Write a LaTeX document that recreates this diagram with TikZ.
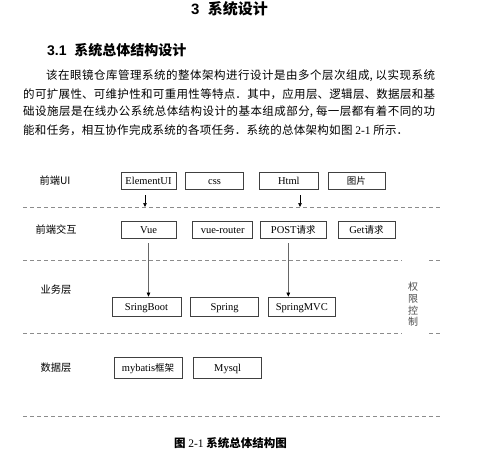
\documentclass[tikz,border=0pt]{standalone}
\usepackage{fontspec}
\setmainfont{Liberation Serif}
\newfontfamily\zh{Noto Sans CJK SC}
\newfontfamily\hd{Liberation Sans}
\usepackage{tikz}
\usetikzlibrary{positioning,arrows.meta,shadows}
\XeTeXlinebreaklocale "zh"
\XeTeXlinebreakskip=0pt plus 2pt
% one justified line of body text
\newcommand\fullline[2]{\parbox{#1}{\parfillskip=0pt #2}}

\begin{document}
\begin{tikzpicture}[x=1pt,y=-1pt,>={Triangle[length=4pt,width=3.5pt,black]},
  box/.style={draw=black!75,line width=0.65pt,inner sep=0pt,fill=white,
    text height=8pt,text depth=1pt,
    font=\fontsize{10.5}{12}\selectfont,
    drop shadow={shadow xshift=0.8pt,shadow yshift=-0.8pt,fill=black!35,opacity=1}},
  layer/.style={anchor=west,font=\zh\fontsize{10.25}{12}\selectfont},
  para/.style={anchor=west,inner sep=0pt,font=\zh\fontsize{11.5}{14}\selectfont},
  sep/.style={draw=black!45,line width=0.6pt,dash pattern=on 4pt off 3pt},
  down/.style={->,line width=0.6pt}]
  \useasboundingbox (0,0) rectangle (479,459);

  % headings and text
  \node[font=\hd\bfseries\fontsize{15}{18}\selectfont] (chap) at (229.5,9)
    {3\ \ {\zh 系统设计}};
  \node[anchor=west,inner sep=0pt,font=\hd\bfseries\fontsize{14}{17}\selectfont] (sec) at (47,50)
    {3.1\ \ {\zh 系统总体结构设计}};
  \node[para] (l1) at (46,76)
    {\fullline{389pt}{该在眼镜仓库管理系统的整体架构进行设计是由多个层次组成, 以实现系统}};
  \node[para] (l2) at (23,94)
    {\fullline{412pt}{的可扩展性、可维护性和可重用性等特点．其中，应用层、逻辑层、数据层和基}};
  \node[para] (l3) at (23,112)
    {\fullline{412pt}{础设施层是在线办公系统总体结构设计的基本组成部分, 每一层都有着不同的功}};
  \node[para] (l4) at (23,130)
    {\fullline{385pt}{能和任务，相互协作完成系统的各项任务．系统的总体架构如图 {\rmfamily 2-1} 所示．}};

  % layer names
  \node[layer] (uiL) at (36,180.5) {前端UI};
  \node[layer] (ixL) at (32,229.5) {前端交互};
  \node[layer] (bizL) at (37,290) {业务层};
  \node[layer] (dataL) at (37,368) {数据层};
  \node[align=center,text=black!70,font=\zh\fontsize{10}{11.7}\selectfont] (auth) at (413,304.5)
    {权\\限\\控\\制};

  % front end UI
  \node[box,minimum width=55pt,minimum height=17pt] (elem) at (148.5,180.5) {ElementUI};
  \node[box,minimum width=58pt,minimum height=17pt,right=9pt of elem] (css) {css};
  \node[box,minimum width=59pt,minimum height=17pt,right=15pt of css] (html) {Html};
  \node[box,minimum width=57pt,minimum height=17pt,right=9pt of html] (pic) {\zh\fontsize{9.5}{11}\selectfont 图片};

  % front end interaction
  \node[box,minimum width=55pt,minimum height=17pt] (vue) at (148.5,229.5) {Vue};
  \node[box,minimum width=60pt,minimum height=17pt,right=16pt of vue] (router) {vue-router};
  \node[box,minimum width=66pt,minimum height=17pt,right=7pt of router] (post)
    {POST{\zh\fontsize{9.5}{11}\selectfont 请求}};
  \node[box,minimum width=57pt,minimum height=17pt,right=11pt of post] (get)
    {Get{\zh\fontsize{9.5}{11}\selectfont 请求}};

  % business layer
  \node[box,minimum width=69pt,minimum height=19pt] (boot) at (146.5,306.5) {SringBoot};
  \node[box,minimum width=68pt,minimum height=19pt,right=9pt of boot] (spring) {Spring};
  \node[box,minimum width=67pt,minimum height=19pt,right=9pt of spring] (mvc) {SpringMVC};

  % data layer
  \node[box,minimum width=68pt,minimum height=21pt] (mybatis) at (148,368)
    {mybatis{\zh\fontsize{9.5}{11}\selectfont 框架}};
  \node[box,minimum width=68pt,minimum height=21pt,right=11pt of mybatis] (mysql) {Mysql};

  % separators
  \draw[sep] (23,207) -- (442,207);
  \foreach \yy in {260,333} {
    \draw[sep] (23,\yy) -- (402,\yy);
    \draw[sep] (429,\yy) -- (442,\yy);
  }
  \draw[sep] (23,416) -- (442,416);

  % arrows
  \coordinate (t1) at (145,207);
  \coordinate (t2) at (300,207);
  \coordinate (postdown) at ([xshift=-5pt]post.south);
  \draw[down,shorten <=6pt] (elem.south -| t1) -- (t1);
  \draw[down,shorten <=6pt] (html.south -| t2) -- (t2);
  \draw[down,black!60,shorten <=5pt] (vue.south) -- (vue.south |- boot.north);
  \draw[down,black!60,shorten <=5pt] (postdown) -- (postdown |- mvc.north);

  \node[font=\zh\bfseries\fontsize{11.5}{13}\selectfont] (cap) at (230.5,443)
    {图 {\mdseries\rmfamily 2-1} 系统总体结构图};
\end{tikzpicture}
\end{document}
